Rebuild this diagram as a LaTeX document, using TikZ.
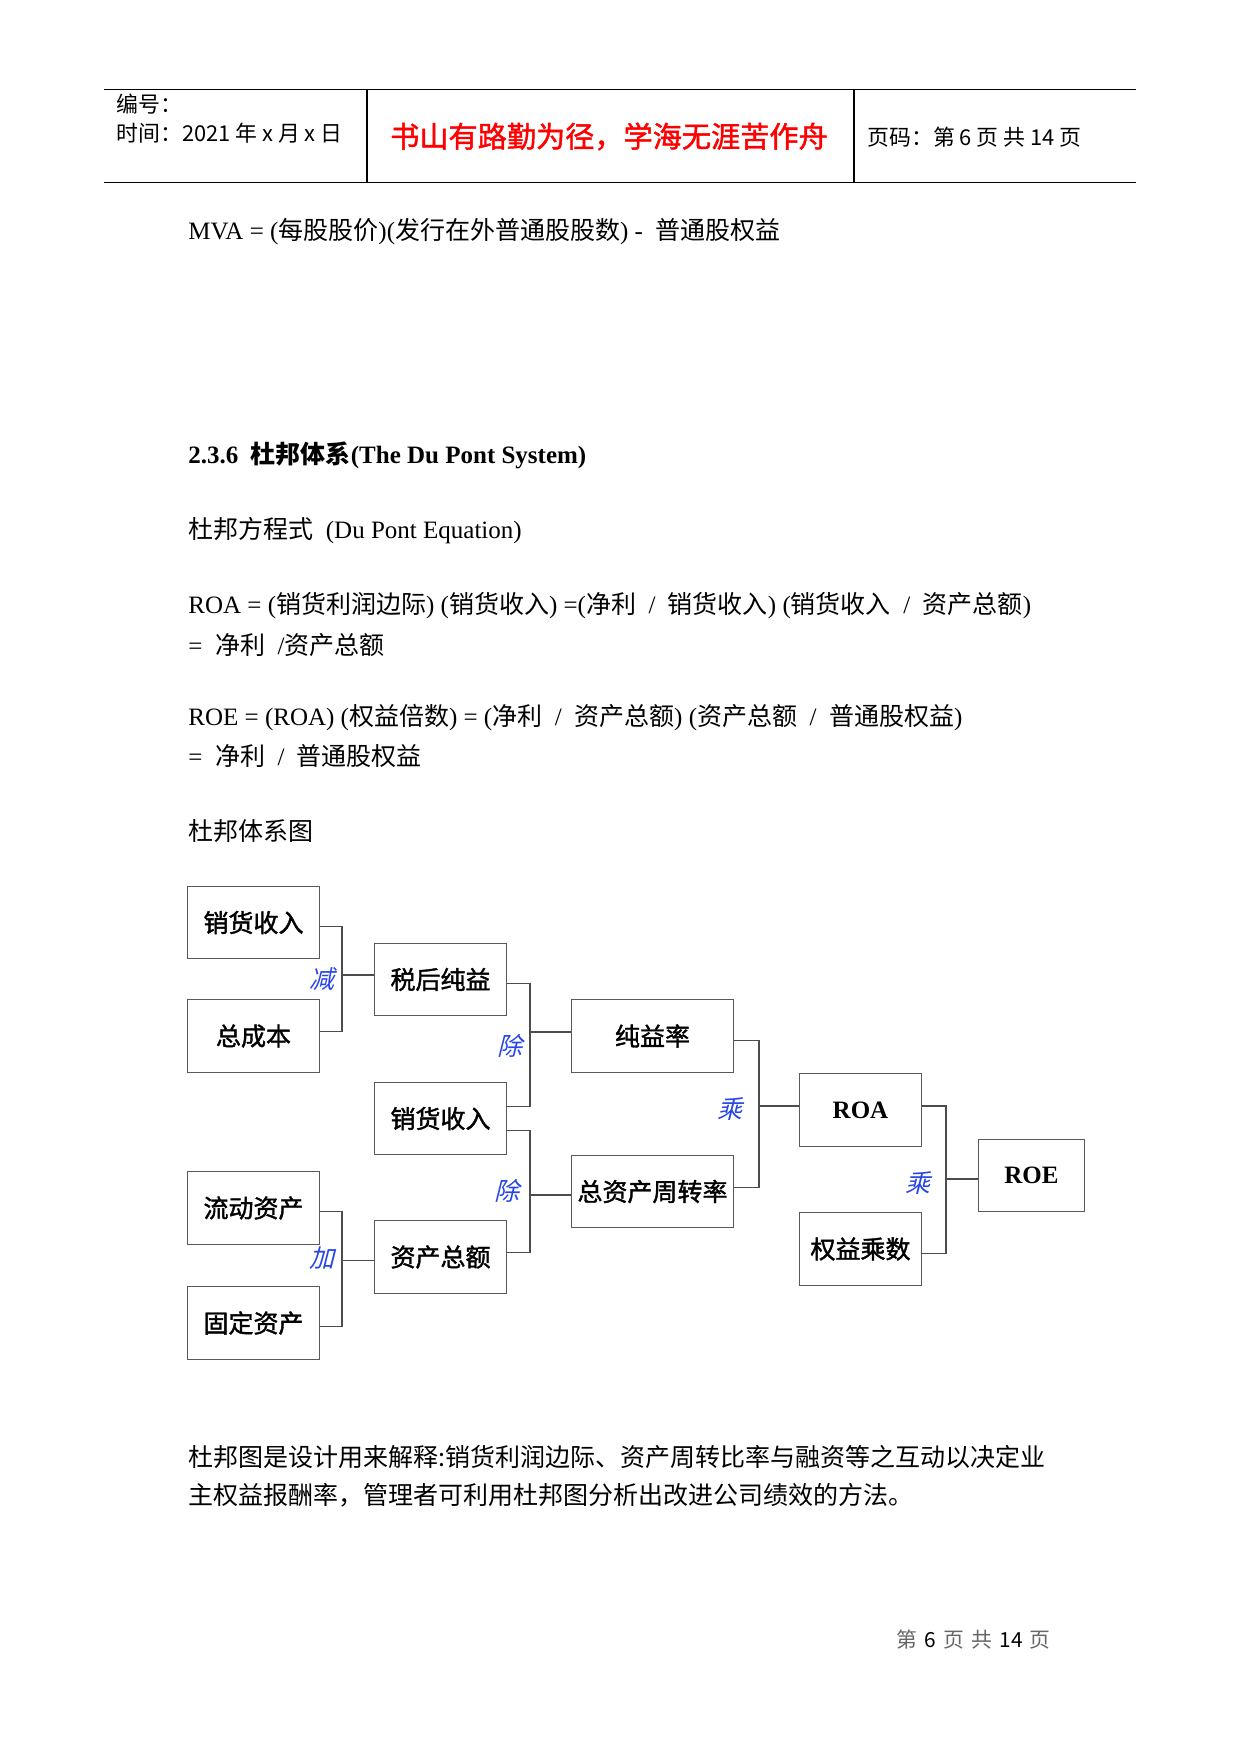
\documentclass[tikz,border=0pt]{standalone}
\usepackage{fontspec}
\setmainfont{Liberation Serif}
\newfontfamily\zhfont{Noto Sans CJK SC}
\newfontfamily\zhbox[FakeBold=1.5]{Noto Sans CJK SC}
\newfontfamily\zhslant[FakeSlant=0.25]{Noto Sans CJK SC}
\newcommand\zh[1]{{\zhfont #1}}
\usetikzlibrary{calc}
\definecolor{opblue}{RGB}{40,70,230}

\begin{document}
\begin{tikzpicture}[
  x=0.48pt, y=-0.48pt,
  box/.style={draw=black!65, line width=0.5pt, inner sep=0pt, minimum width=63pt, minimum height=35pt,
    font=\fontsize{12}{14}\selectfont\zhbox},
  roman/.style={font=\fontsize{12}{14}\selectfont\bfseries},
  link/.style={draw=black!70, line width=0.5pt},
  op/.style={inner sep=0pt, text=opblue, font=\fontsize{12}{14}\selectfont\zhslant},
  txt/.style={anchor=west, inner sep=0pt, font=\fontsize{12}{14}\selectfont},
  hd/.style={anchor=west, inner sep=0pt, font=\fontsize{10.5}{12}\selectfont\zhfont}]
  \useasboundingbox (0,0) rectangle (1241,1754);
  \fill[white] (0,0) rectangle (1241,1754);

  \draw[line width=0.5pt] (104,89.5) -- (1136,89.5) (104,182.5) -- (1136,182.5) (854,89.5) -- (854,182.5);
  \draw[line width=0.8pt] (367,89.5) -- (367,182.5);
  \node[hd] (num) at (116,104) {编号：};
  \node[hd] (date) at (116,133) {时间：2021 年 x 月 x 日};
  \node[hd, anchor=center, text=red, font=\fontsize{14}{16}\selectfont\zhbox] (motto) at (609,136.5) {书山有路勤为径，学海无涯苦作舟};
  \node[hd] (pg) at (867,137) {页码：第 6 页 共 14 页};

  \node[txt] (mva) at (188,232) {MVA = (\zh{每股股价})(\zh{发行在外普通股股数}) -\ \ \zh{普通股权益}};
  \node[txt, font=\fontsize{12}{14}\selectfont\bfseries] (sec) at (188,455) {2.3.6\ \ \zh{杜邦体系}(The Du Pont System)};
  \node[txt] (eqn) at (188,531) {\zh{杜邦方程式}\ \ (Du Pont Equation)};
  \node[txt] (roaA) at (188,606) {ROA = (\zh{销货利润边际}) (\zh{销货收入}) =(\zh{净利}\ \ /\ \ \zh{销货收入}) (\zh{销货收入}\ \ /\ \ \zh{资产总额})};
  \node[txt] (roaB) at (188,645) {=\ \ \zh{净利}\ \ /\zh{资产总额}};
  \node[txt] (roeA) at (188,718) {ROE = (ROA) (\zh{权益倍数}) = (\zh{净利}\ \ /\ \ \zh{资产总额}) (\zh{资产总额}\ \ /\ \ \zh{普通股权益})};
  \node[txt] (roeB) at (188,756) {=\ \ \zh{净利}\ \ /\ \ \zh{普通股权益}};
  \node[txt] (title) at (188,831) {\zh{杜邦体系图}};

  \node[box] (sales1) at (253.5,922.5) {销货收入};
  \node[box] (cost) at (253.5,1036) {总成本};
  \node[box] (netinc) at (440.5,979.5) {税后纯益};
  \node[box] (sales2) at (440.5,1118.5) {销货收入};
  \node[box] (curr) at (253.5,1208) {流动资产};
  \node[box] (fixed) at (253.5,1323) {固定资产};
  \node[box] (assets) at (440.5,1257) {资产总额};
  \node[box, minimum width=78pt] (margin) at (652.5,1036) {纯益率};
  \node[box, minimum width=78pt] (turnover) at (652.5,1191.5) {总资产周转率};
  \node[box, roman, minimum width=58.6pt] (roa) at (860.5,1110) {ROA};
  \node[box, minimum width=58.6pt] (eqm) at (860.5,1249) {权益乘数};
  \node[box, roman, minimum width=51pt] (roe) at (1031.5,1175.5) {ROE};

  \coordinate (jA) at (342,975);
  \coordinate (jB) at (530,1032);
  \coordinate (jC) at (530,1195);
  \coordinate (jD) at (342,1260.7);
  \coordinate (jE) at (759,1106);
  \coordinate (jF) at (946,1179);

  \draw[link] ($(sales1.east)+(0,3.7)$) -| (jA);
  \draw[link] ($(cost.east)+(0,-4.4)$) -| (jA);
  \draw[link] (jA) -- (netinc.west |- jA);
  \draw[link] ($(netinc.east)+(0,4.4)$) -| (jB);
  \draw[link] ($(sales2.east)+(0,-12.4)$) -| (jB);
  \draw[link] (jB) -- (margin.west |- jB);
  \draw[link] ($(sales2.east)+(0,12.4)$) -| (jC);
  \draw[link] ($(assets.east)+(0,-4.4)$) -| (jC);
  \draw[link] (jC) -- (turnover.west |- jC);
  \draw[link] ($(curr.east)+(0,3.7)$) -| (jD);
  \draw[link] ($(fixed.east)+(0,3.7)$) -| (jD);
  \draw[link] (jD) -- (assets.west |- jD);
  \draw[link] ($(margin.east)+(0,4.4)$) -| (jE);
  \draw[link] ($(turnover.east)+(0,-4.4)$) -| (jE);
  \draw[link] (jE) -- (roa.west |- jE);
  \draw[link] ($(roa.east)+(0,-4)$) -| (jF);
  \draw[link] ($(eqm.east)+(0,4.4)$) -| (jF);
  \draw[link] (jF) -- (roe.west |- jF);

  \node[op] (minus) at (322,979) {减};
  \node[op] (divA) at (510,1046) {除};
  \node[op] (divB) at (507,1191) {除};
  \node[op] (plus) at (322,1258) {加};
  \node[op] (mulA) at (730,1109) {乘};
  \node[op] (mulB) at (918,1183) {乘};

  \node[txt] (parA) at (188,1457) {\zh{杜邦图是设计用来解释:销货利润边际、资产周转比率与融资等之互动以决定业}};
  \node[txt] (parB) at (188,1495) {\zh{主权益报酬率，管理者可利用杜邦图分析出改进公司绩效的方法。}};

  \node[anchor=center, inner sep=0pt, text=black!60, font=\fontsize{10}{12}\selectfont\zhfont] (pgno) at (973.5,1640)
    {第\hspace{3.5pt}\textcolor{black}{6}\hspace{3.5pt}页\hspace{3.5pt}共\hspace{3.5pt}\textcolor{black}{14}\hspace{3.5pt}页};
\end{tikzpicture}
\end{document}
